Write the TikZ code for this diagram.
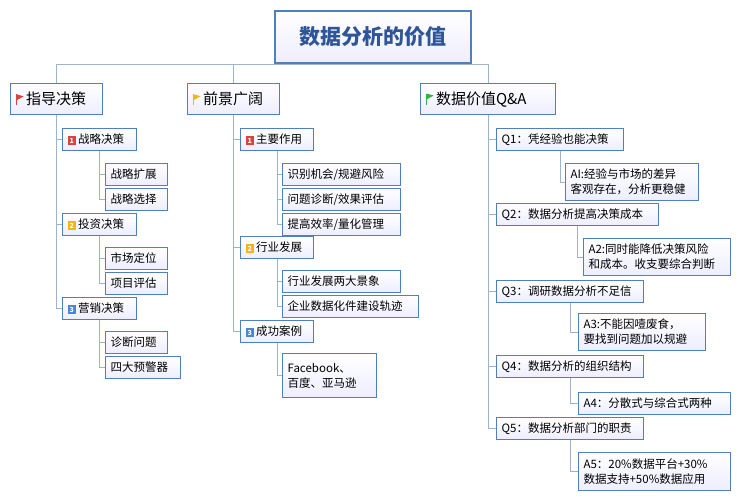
\documentclass[tikz,border=0pt]{standalone}
\usepackage{fontspec}
\setmainfont{Noto Sans CJK SC}
\definecolor{boxline}{HTML}{4F7FBF}
\definecolor{linkline}{HTML}{9FB3CC}
\definecolor{titletext}{HTML}{2F5597}
\definecolor{flagred}{HTML}{E04040}
\definecolor{flagyellow}{HTML}{F2B619}
\definecolor{flaggreen}{HTML}{2DB34A}
\definecolor{numblue}{HTML}{4A86D8}
\newcommand{\flagmark}[1]{\raisebox{-0.5pt}{\textcolor{#1}{\rule{1.5pt}{11pt}}}\kern-0.5pt\raisebox{4.5pt}{\textcolor{#1}{\tikz[x=1pt,y=1pt]\fill (0,0) -- (0,6) -- (7,4) -- cycle;}}\,}
\newcommand{\nummark}[2]{\raisebox{0pt}{\colorbox{#1}{\makebox[6.5pt][c]{\rule{0pt}{7pt}\textcolor{white}{\fontsize{7}{7}\selectfont\bfseries #2}}}}\,}
\tikzset{%
	% boxes of the mind map
	base/.style = {rectangle, draw=boxline, line width=1.2pt,
		top color=white, bottom color=blue!7, inner xsep=5pt, inner ysep=2pt,
		anchor=north west, align=left},
	rootbox/.style = {base, line width=2pt, minimum width=196pt, minimum height=52pt,
		font=\fontsize{21}{23}\selectfont\bfseries, text=titletext, align=center},
	branchbox/.style = {base, text width=#1, minimum height=31pt, font=\fontsize{15}{17}\selectfont},
	topicbox/.style = {base, text width=#1, minimum height=22pt, font=\fontsize{11.5}{15}\selectfont},
	link/.style = {draw=linkline, line width=0.9pt},
}
\setlength{\fboxsep}{1pt}
\begin{document}
\begin{tikzpicture}[x=1pt, y=-1pt]
	\useasboundingbox (0,0) rectangle (740,500);
	% root
	\node (root) [rootbox] at (274,10) {数据分析的价值};
	% first branch
	\node (guide)    [branchbox=82pt] at (10,83)  {\flagmark{flagred}指导决策};
	\node (strategy) [topicbox=64pt]  at (62,128) {\nummark{flagred}{1}战略决策};
	\node (expand)   [topicbox=52pt]  at (105,163) {战略扩展};
	\node (choose)   [topicbox=52pt]  at (105,188) {战略选择};
	\node (invest)   [topicbox=64pt]  at (62,213) {\nummark{flagyellow}{2}投资决策};
	\node (market)   [topicbox=52pt]  at (105,247) {市场定位};
	\node (project)  [topicbox=52pt]  at (105,272) {项目评估};
	\node (sales)    [topicbox=64pt]  at (62,297) {\nummark{numblue}{3}营销决策};
	\node (diagnose) [topicbox=52pt]  at (105,331) {诊断问题};
	\node (warning)  [topicbox=65pt]  at (105,356) {四大预警器};
	% second branch
	\node (outlook)  [branchbox=82pt] at (187,83)  {\flagmark{flagyellow}前景广阔};
	\node (role)     [topicbox=63pt]  at (240,128) {\nummark{flagred}{1}主要作用};
	\node (chance)   [topicbox=108pt] at (282,163) {识别机会/规避风险};
	\node (problem)  [topicbox=108pt] at (282,188) {问题诊断/效果评估};
	\node (effic)    [topicbox=108pt] at (282,213) {提高效率/量化管理};
	\node (industry) [topicbox=63pt]  at (240,236) {\nummark{flagyellow}{2}行业发展};
	\node (scene)    [topicbox=108pt] at (282,270) {行业发展两大景象};
	\node (track)    [topicbox=126pt] at (282,295) {企业数据化件建设轨迹};
	\node (cases)    [topicbox=63pt]  at (240,320) {\nummark{numblue}{3}成功案例};
	\node (firms)    [topicbox=84pt, minimum height=44pt] at (282,353) {Facebook、\\百度、亚马逊};
	% third branch
	\node (qa)       [branchbox=125pt] at (420,83) {\flagmark{flaggreen}数据价值Q\&A};
	\node (q1) [topicbox=117pt] at (496,128) {Q1：凭经验也能决策};
	\node (a1) [topicbox=123pt, minimum height=37pt] at (565,163) {AI:经验与市场的差异\\客观存在，分析更稳健};
	\node (q2) [topicbox=152pt] at (496,203) {Q2：数据分析提高决策成本};
	\node (a2) [topicbox=137pt, minimum height=37pt] at (583,238) {A2:同时能降低决策风险\\和成本。收支要综合判断};
	\node (q3) [topicbox=137pt] at (496,280) {Q3：调研数据分析不足信};
	\node (a3) [topicbox=117pt, minimum height=37pt] at (578,313) {A3:不能因噎废食，\\要找到问题加以规避};
	\node (q4) [topicbox=137pt] at (496,355) {Q4：数据分析的组织结构};
	\node (a4) [topicbox=142pt] at (578,392) {A4：分散式与综合式两种};
	\node (q5) [topicbox=137pt] at (496,417) {Q5：数据分析部门的职责};
	\node (a5) [topicbox=142pt, minimum height=38pt] at (578,452) {A5：20\%数据平台+30\%\\数据支持+50\%数据应用};
	% connectors
	\foreach \b in {guide,outlook,qa}
		\draw[link] (\b.north) |- (root.south);
	\foreach \p/\c in {guide/strategy,guide/invest,guide/sales,
			strategy/expand,strategy/choose,invest/market,invest/project,sales/diagnose,sales/warning,
			outlook/role,outlook/industry,outlook/cases,
			role/chance,role/problem,role/effic,industry/scene,industry/track,cases/firms,
			qa/q1,qa/q2,qa/q3,qa/q4,qa/q5,q1/a1,q2/a2,q3/a3,q4/a4,q5/a5}
		\draw[link] (\p.south) |- (\c.west);
\end{tikzpicture}
\end{document}
